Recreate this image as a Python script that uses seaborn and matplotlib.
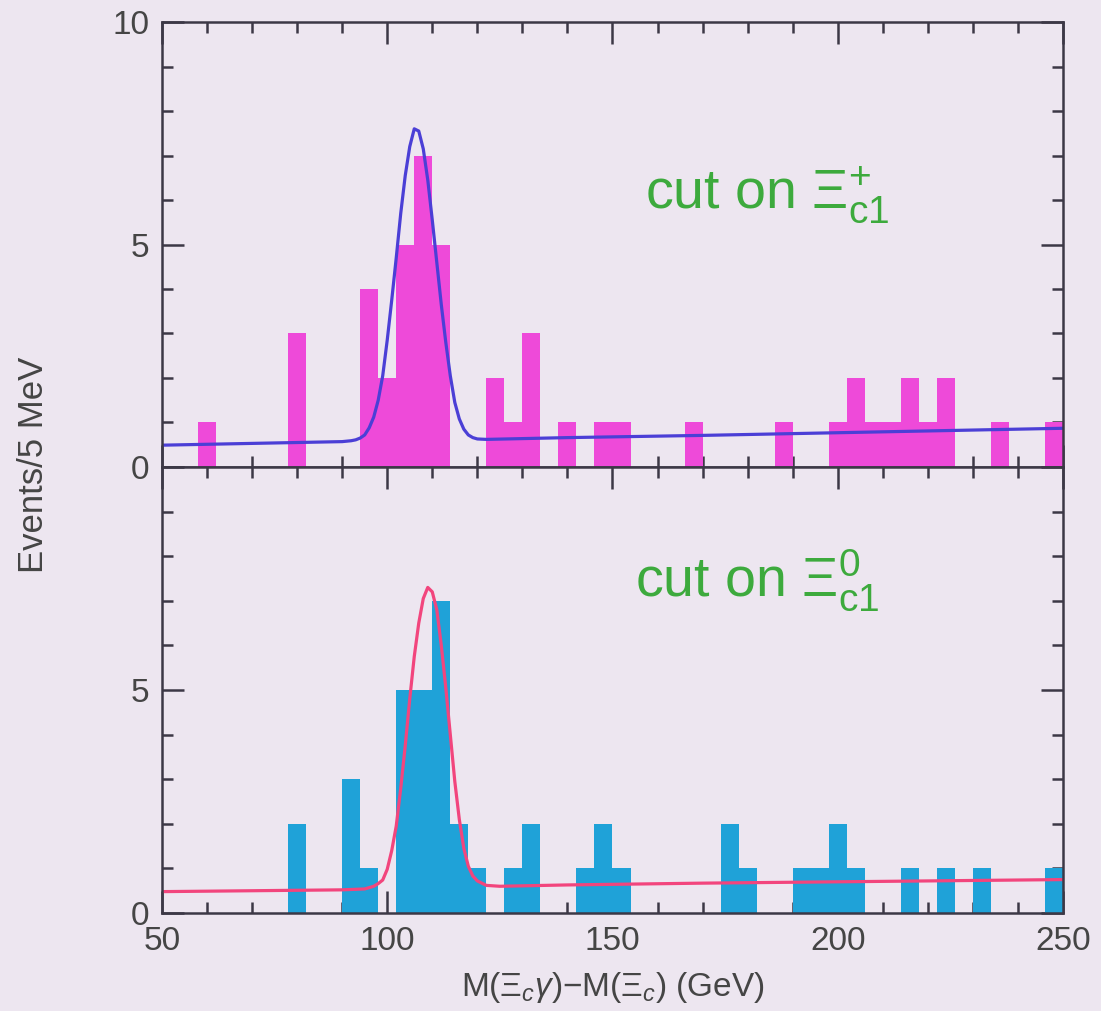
import numpy as np
import matplotlib
matplotlib.use("Agg")
import matplotlib.pyplot as plt
import seaborn as sns

# Histogram binning (4 GeV bins from 50 to 250)
bin_edges = list(range(50, 251, 4))
bin_centers = [e + 2 for e in bin_edges[:-1]]

# Counts, one per bin (50-54, 54-58, ..., 246-250)
counts_plus = [0, 0, 1, 0, 0, 0, 0, 3, 0, 0,
               0, 4, 2, 5, 7, 5, 0, 0, 2, 1,
               3, 0, 1, 0, 1, 1, 0, 0, 0, 1,
               0, 0, 0, 0, 1, 0, 0, 1, 2, 1,
               1, 2, 1, 2, 0, 0, 1, 0, 0, 1]
counts_zero = [0, 0, 0, 0, 0, 0, 0, 2, 0, 0,
               3, 1, 0, 5, 5, 7, 2, 1, 0, 1,
               2, 0, 0, 1, 2, 1, 0, 0, 0, 0,
               0, 2, 1, 0, 0, 1, 1, 2, 1, 0,
               0, 1, 0, 1, 0, 1, 0, 0, 0, 1]

# Fit curves
fit_x_plus = [50, 70, 90, 92, 93, 94, 95, 96, 97, 98, 99, 100, 101, 102, 103,
              104, 105, 106, 107, 108, 109, 110, 111, 112, 113, 114, 115, 116,
              117, 118, 119, 120, 122, 140, 170, 200, 230, 250]
fit_y_plus = [0.49, 0.53, 0.57, 0.59, 0.61, 0.65, 0.72, 0.88, 1.12, 1.50, 2.05,
              2.85, 3.75, 4.70, 5.70, 6.55, 7.20, 7.60, 7.55, 7.15, 6.45, 5.55,
              4.60, 3.65, 2.80, 2.05, 1.45, 1.08, 0.85, 0.72, 0.66, 0.63, 0.62,
              0.66, 0.71, 0.77, 0.83, 0.87]
fit_x_zero = [50, 70, 90, 95, 97, 98, 99, 100, 101, 102, 103, 104, 105, 106,
              107, 108, 109, 110, 111, 112, 113, 114, 115, 116, 117, 118, 119,
              120, 122, 125, 140, 170, 200, 230, 250]
fit_y_zero = [0.48, 0.50, 0.52, 0.54, 0.60, 0.66, 0.74, 0.98, 1.40, 1.95, 2.80,
              3.75, 4.80, 5.75, 6.50, 7.05, 7.30, 7.20, 6.80, 6.00, 5.05, 4.00,
              2.95, 2.10, 1.45, 1.05, 0.83, 0.72, 0.62, 0.60, 0.63, 0.67, 0.70,
              0.73, 0.75]

x_ticks = [50, 100, 150, 200, 250]
panel_labels = ["cut on Ξ$_{\\mathregular{c1}}^{+}$", "cut on Ξ$_{\\mathregular{c1}}^{0}$"]

BG = "#EDE6F0"
INK = "#3c3846"
TXT = "#454545"

sns.set_theme(style="ticks")
plt.rcParams["font.family"] = ["Liberation Sans", "DejaVu Sans"]
plt.rcParams["mathtext.fontset"] = "custom"
plt.rcParams["mathtext.rm"] = "Liberation Sans"
plt.rcParams["mathtext.it"] = "Liberation Sans:italic"
plt.rcParams["mathtext.bf"] = "Liberation Sans:bold"

fig = plt.figure(figsize=(11.01, 10.11), dpi=100, facecolor=BG)
ax1 = fig.add_axes([0.1471, 0.5381, 0.8184, 0.4401])
ax2 = fig.add_axes([0.1471, 0.0969, 0.8184, 0.4412], sharex=ax1)

panels = [
    (ax1, counts_plus, fit_x_plus, fit_y_plus, "#EE4AD9", "#4B3FD6", (157.3, 5.8), panel_labels[0]),
    (ax2, counts_zero, fit_x_zero, fit_y_zero, "#1FA2D8", "#F2457D", (155.1, 7.1), panel_labels[1]),
]

for ax, counts, fx, fy, bar_col, line_col, txt_pos, txt in panels:
    ax.set_facecolor(BG)
    sns.histplot(x=bin_centers, weights=counts, bins=bin_edges, ax=ax,
                 element="step", fill=True, color=bar_col, alpha=1, linewidth=0)
    sns.lineplot(x=fx, y=fy, ax=ax, color=line_col, linewidth=2.3, sort=True)
    ax.text(txt_pos[0], txt_pos[1], txt, color="#3DAA3D", fontsize=40)

    ax.set_xlim(50, 250)
    ax.set_ylim(0, 10)
    ax.set_ylabel("")
    ax.set_xlabel("")
    ax.set_xticks(x_ticks)
    ax.set_xticks(np.arange(50, 251, 10), minor=True)
    ax.set_yticks([0, 5, 10])
    ax.set_yticks(np.arange(0, 11, 1), minor=True)
    ax.tick_params(which="both", direction="in", top=True, right=True,
                   color=INK, width=1.8, labelsize=24, labelcolor=TXT)
    ax.tick_params(which="major", length=16, pad=9)
    ax.tick_params(which="minor", length=8)
    for s in ax.spines.values():
        s.set_color(INK)
        s.set_linewidth(1.8)

ax1.tick_params(axis="x", labelbottom=False)
ax2.set_yticklabels(["0", "5", ""])
ax2.set_xlabel(r"M(Ξ$_{c}\gamma$)$-$M(Ξ$_{c}$) (GeV)", fontsize=24, color=TXT)
ax2.xaxis.set_label_coords(0.5, -(987 - 913) / 446)
ax2.xaxis.label.set_va("center")

fig.text(34 / 1101, 1 - 465 / 1011, "Events/5 MeV", rotation=90, ha="center",
         va="center", fontsize=25, color=TXT)

fig.savefig("out.png", dpi=100, facecolor=BG)
